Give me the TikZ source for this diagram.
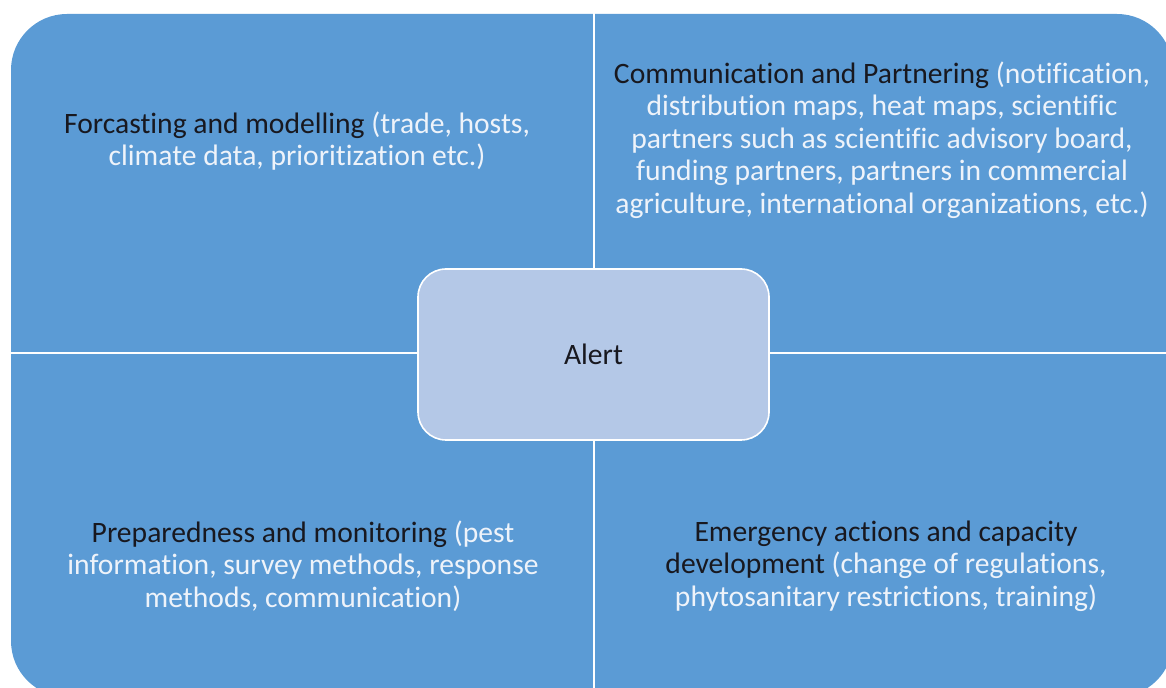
\documentclass[tikz,border=0pt]{standalone}
\usepackage{fontspec}
\setmainfont{Carlito}[Ligatures=NoCommon]
\definecolor{quadblue}{HTML}{5B9BD5}
\definecolor{alertblue}{HTML}{B4C8E7}
\definecolor{headtext}{HTML}{18181F}
\definecolor{notetext}{HTML}{EEF3FA}
\tikzset{
  quadtext/.style={align=center, inner sep=0pt, text=headtext,
    font=\fontsize{14.8}{16.3}\selectfont},
  alertbox/.style={draw=white, line width=0.8pt, fill=alertblue,
    rounded corners=14pt, minimum width=175.5pt, minimum height=85.5pt,
    text=headtext, font=\fontsize{14.8}{16.3}\selectfont}
}
\newcommand{\note}[1]{\textcolor{notetext}{#1}}
\begin{document}
\begin{tikzpicture}[x=0.5pt, y=-0.5pt]
    \useasboundingbox (0,0) rectangle (1166,688);
    % Quadrants
    \begin{scope}
        \clip (0,0) rectangle (1166,688);
        \fill[quadblue, rounded corners=28pt] (11,14) rectangle (1173,697);
    \end{scope}
    \draw[white, line width=1pt] (594,0) -- (594,688);
    \draw[white, line width=1pt] (0,353) -- (1166,353);
    % Texts
    \node[quadtext] (forecast) at (297,141)
        {Forcasting and modelling \note{(trade, hosts,}\\
         \note{climate data, prioritization etc.)}};
    \node[quadtext] (partner) at (882,140)
        {Communication and Partnering \note{(notification,}\\
         \note{distribution maps, heat maps, scientific}\\
         \note{partners such as scientific advisory board,}\\
         \note{funding partners, partners in commercial}\\
         \note{agriculture, international organizations, etc.)}};
    \node[quadtext] (prepare) at (303,566)
        {Preparedness and monitoring \note{(pest}\\
         \note{information, survey methods, response}\\
         \note{methods, communication)}};
    \node[quadtext] (emergency) at (886,566)
        {Emergency actions and capacity\\
         development \note{(change of regulations,}\\
         \note{phytosanitary restrictions, training)}};
    % Centre
    \node[alertbox] (alert) at (593.5,354.5) {Alert};
\end{tikzpicture}
\end{document}
